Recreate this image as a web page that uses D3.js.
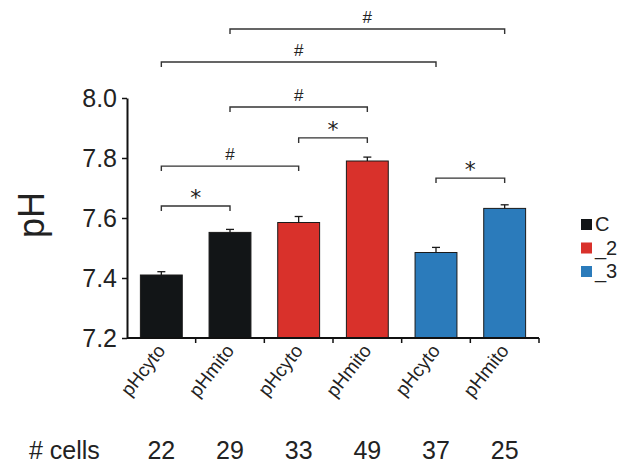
<!DOCTYPE html>
<html><head><meta charset="utf-8">
<script src="https://cdn.jsdelivr.net/npm/d3@7"></script>
<style>body{margin:0;background:#fff}svg{display:block;font-family:"Liberation Sans",Arial,sans-serif}</style>
</head><body><svg id="c" width="624" height="463"></svg>
<script>
const categories = ["pHcyto","pHmito","pHcyto","pHmito","pHcyto","pHmito"];
const groups = ["C","_2","_3"];
const groupOf = [0,0,1,1,2,2];
const values = [7.41, 7.552, 7.585, 7.79, 7.485, 7.632];
const errors = [0.011, 0.01, 0.02, 0.013, 0.017, 0.012];
const cells = [22, 29, 33, 49, 37, 25];
const yTicks = [7.2, 7.4, 7.6, 7.8, 8.0];
const colors = ["#121517", "#d9312b", "#2b7bbb"];
// significance brackets: [from index, to index, level (pH), label]
const brackets = [
  [1, 5, 8.23, "#"],
  [0, 4, 8.12, "#"],
  [1, 3, 7.97, "#"],
  [2, 3, 7.867, "*"],
  [0, 2, 7.773, "#"],
  [4, 5, 7.733, "*"],
  [0, 1, 7.64, "*"]
];

const svg = d3.select("#c");
const idx = d3.range(categories.length);
const x = d3.scaleBand().domain(idx).range([127, 539]).paddingInner(0.39).paddingOuter(0.195);
const y = d3.scaleLinear().domain([7.2, 8.0]).range([338, 98]);
const cx = i => x(i) + x.bandwidth() / 2;

// bars
svg.append("g").selectAll("rect").data(idx).join("rect")
  .attr("x", i => x(i)).attr("width", x.bandwidth())
  .attr("y", i => y(values[i])).attr("height", i => y(7.2) - y(values[i]))
  .attr("fill", i => colors[groupOf[i]]).attr("stroke", "#1a1a1a").attr("stroke-width", 1);

// error bars
const eb = svg.append("g").attr("stroke", "#1a1a1a").attr("stroke-width", 1.3);
idx.forEach(i => {
  eb.append("line").attr("x1", cx(i)).attr("x2", cx(i)).attr("y1", y(values[i])).attr("y2", y(values[i] + errors[i]));
  eb.append("line").attr("x1", cx(i) - 4).attr("x2", cx(i) + 4).attr("y1", y(values[i] + errors[i])).attr("y2", y(values[i] + errors[i]));
});

// y axis
const ya = svg.append("g").attr("transform", "translate(127,0)")
  .call(d3.axisLeft(y).tickValues(yTicks).tickFormat(d3.format(".1f")).tickSize(5).tickSizeOuter(0));
ya.select(".domain").attr("stroke", "#111").attr("stroke-width", 2);
ya.selectAll(".tick line").attr("stroke", "#111").attr("stroke-width", 1.5);
ya.selectAll(".tick text").attr("font-size", 25).attr("fill", "#222").attr("x", -10).attr("dy", "0.35em")
  .style("font-family", "'Liberation Sans',Arial,sans-serif");

// x axis line with ticks at band boundaries
const xa = svg.append("g").attr("stroke", "#111");
xa.append("line").attr("x1", 127).attr("x2", 539).attr("y1", y(7.2)).attr("y2", y(7.2)).attr("stroke-width", 2);
const bounds = idx.map(i => x(i) + x.bandwidth() + x.step() * x.paddingInner() / 2);
bounds.forEach(b => xa.append("line").attr("x1", b).attr("x2", b).attr("y1", y(7.2)).attr("y2", y(7.2) + 5).attr("stroke-width", 1.5));

// x labels rotated
svg.append("g").selectAll("text").data(idx).join("text")
  .attr("transform", i => `translate(${cx(i) + 5},${y(7.2) + 13}) rotate(-52)`)
  .attr("text-anchor", "end").attr("font-size", 19).attr("fill", "#222")
  .text(i => categories[i]);

// y title
svg.append("text").attr("transform", "translate(44,215) rotate(-90)")
  .attr("text-anchor", "middle").attr("font-size", 36).attr("fill", "#222").text("pH");

// cells row
svg.append("text").attr("x", 29).attr("y", 459).attr("font-size", 25).attr("fill", "#222").text("# cells");
svg.append("g").selectAll("text").data(idx).join("text")
  .attr("x", i => cx(i)).attr("y", 459).attr("text-anchor", "middle").attr("font-size", 25).attr("fill", "#222")
  .text(i => cells[i]);

// brackets
const bg = svg.append("g");
brackets.forEach(([a, b, lv, lab]) => {
  const yy = y(lv);
  bg.append("path").attr("d", `M${cx(a)},${yy + 5}V${yy}H${cx(b)}V${yy + 5}`)
    .attr("fill", "none").attr("stroke", "#333").attr("stroke-width", 1.4);
  bg.append("text").attr("x", (cx(a) + cx(b)) / 2).attr("y", lab === "*" ? yy - 1 : yy - 6)
    .attr("text-anchor", "middle").attr("font-size", lab === "*" ? 22 : 17).attr("fill", "#222")
    .style("font-family", lab === "*" ? "'DejaVu Sans',sans-serif" : "'Liberation Sans',Arial,sans-serif")
    .text(lab);
});

// legend
const lg = svg.append("g");
groups.forEach((g, i) => {
  lg.append("rect").attr("x", 581).attr("y", 219 + i * 23.5).attr("width", 11).attr("height", 11).attr("fill", colors[i]);
  lg.append("text").attr("x", 595).attr("y", 231 + i * 23.5).attr("font-size", 20).attr("fill", "#222").text(g);
});
</script></body></html>
